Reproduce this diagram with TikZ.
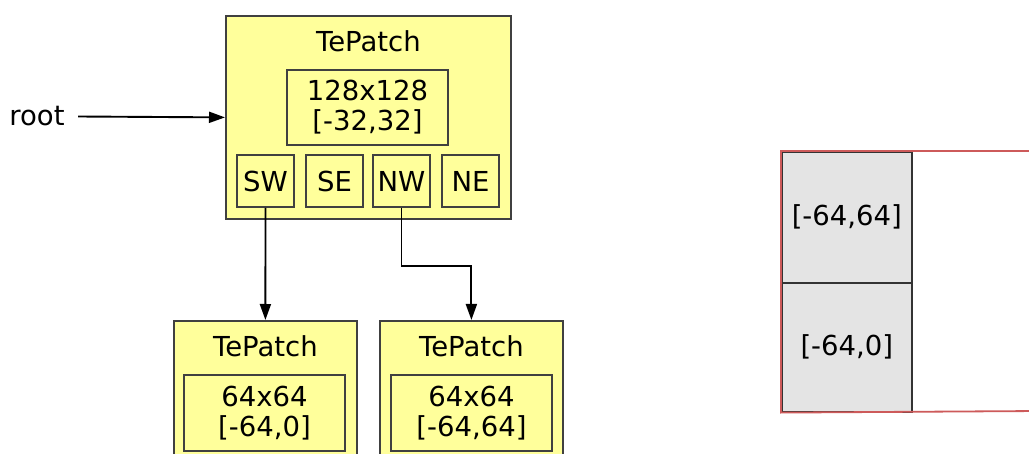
\documentclass[tikz,border=0pt]{standalone}
\usepackage{fontspec}
\setmainfont{DejaVu Sans}
\usepackage{tikz}
\usetikzlibrary{positioning,arrows.meta,calc}
\definecolor{patchyellow}{RGB}{255,255,155}
\definecolor{cellgrey}{RGB}{228,228,228}
\definecolor{gridred}{RGB}{205,90,90}
\tikzstyle{patch} = [draw=black!75, fill=patchyellow, line width=1.8pt, anchor=north west, inner sep=0pt]
\tikzstyle{inbox} = [draw=black!75, fill=patchyellow, line width=1.6pt, align=center, inner sep=0pt]
\tikzstyle{quad} = [inbox, minimum width=57pt, minimum height=52pt]
\tikzstyle{cell} = [draw=black!80, fill=cellgrey, line width=1.6pt, minimum width=130pt, anchor=north west, inner sep=0pt]
\tikzstyle{arrow} = [line width=1.9pt, -{Triangle[length=16pt,width=11pt]}]

\begin{document}
\begin{tikzpicture}[x=1pt, y=-1pt, font=\fontsize{27.5}{30}\selectfont]
        \clip (0,0) rectangle (1029,454);
        \fill[white] (0,0) rectangle (1029,454);
        % root patch
        \node[patch, minimum width=285pt, minimum height=203pt] (top) at (225,15) {};
        \node[below=12pt of top.north] (toptitle) {TePatch};
        \node[inbox, minimum width=161pt, minimum height=75pt] (topsize) at (367.5,107.5) {128x128\\{[-32,32]}};
        \node[quad] (sw) at (265.5,181) {SW};
        \node[quad] (se) at (334.5,181) {SE};
        \node[quad] (nw) at (401.5,181) {NW};
        \node[quad] (ne) at (470.5,181) {NE};
        \node (root) at (37,116.5) {root};
        % children
        \node[patch, minimum width=183pt, minimum height=160pt] (swpatch) at (173,320) {};
        \node[below=12pt of swpatch.north] (swtitle) {TePatch};
        \node[inbox, minimum width=161pt, minimum height=76pt] (swsize) at (264.5,413) {64x64\\{[-64,0]}};
        \node[patch, minimum width=183pt, minimum height=160pt] (nwpatch) at (379,320) {};
        \node[below=12pt of nwpatch.north] (nwtitle) {TePatch};
        \node[inbox, minimum width=161pt, minimum height=76pt] (nwsize) at (471.5,413) {64x64\\{[-64,64]}};
        \draw[arrow] ([xshift=10pt]root.east) -- (top.west);
        \draw[arrow] (sw.south) -- (swpatch.north);
        \draw[arrow] (nw.south) -- ++(0,58) -| (nwpatch.north);
        % quadtree cells
        \node[cell, minimum height=131pt] (cellnw) at (781,151) {[-64,64]};
        \node[cell, minimum height=129pt] (cellsw) at (781,282) {[-64,0]};
        \draw[gridred, line width=1.8pt] (1040,151) -- (cellnw.north west) -- (cellsw.south west) -- (1040,411);
\end{tikzpicture}
\end{document}
